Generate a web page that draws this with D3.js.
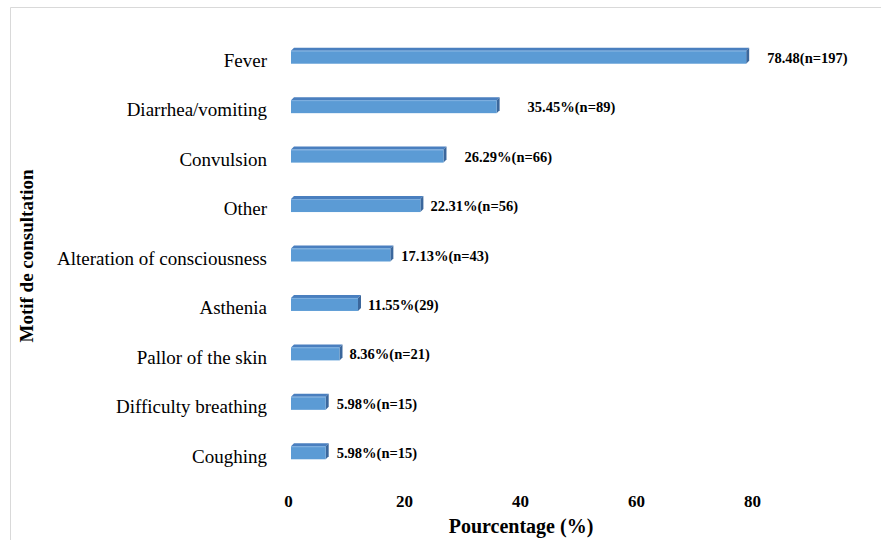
<!DOCTYPE html>
<html>
<head>
<meta charset="utf-8">
<script src="https://cdn.jsdelivr.net/npm/d3@7"></script>
<style>
  html, body { margin: 0; padding: 0; background: #fff; }
  svg { display: block; }
</style>
</head>
<body>
<svg id="chart" width="881" height="540"></svg>
<script>
// ---- data ----
const categories = ["Fever", "Diarrhea/vomiting", "Convulsion", "Other",
  "Alteration of consciousness", "Asthenia", "Pallor of the skin",
  "Difficulty breathing", "Coughing"];
const percentages = [78.48, 35.45, 26.29, 22.31, 17.13, 11.55, 8.36, 5.98, 5.98];
const valueLabels = ["78.48(n=197)", "35.45%(n=89)", "26.29%(n=66)", "22.31%(n=56)",
  "17.13%(n=43)", "11.55%(29)", "8.36%(n=21)", "5.98%(n=15)", "5.98%(n=15)"];
const xTicks = [0, 20, 40, 60, 80];
// label placement nudges (layout only)
const labelGap = [18, 28, 18, 7, 8, 7, 7, 8, 8];

// ---- layout ----
const svg = d3.select("#chart");
const W = 881, H = 540;

// frame
svg.append("line").attr("x1", 10.5).attr("x2", 10.5).attr("y1", 7.5).attr("y2", H)
  .attr("stroke", "#d9d9d9").attr("stroke-width", 1);
svg.append("line").attr("x1", 10.5).attr("x2", W).attr("y1", 7.5).attr("y2", 7.5)
  .attr("stroke", "#d9d9d9").attr("stroke-width", 1);

const x = d3.scaleLinear().domain([0, 80]).range([288, 752]);
const y = d3.scaleBand().domain(categories).range([36, 481]);
const cy = c => y(c) + y.bandwidth() / 2;

const serif = "'Liberation Serif', 'Times New Roman', serif";

// category labels
svg.append("g").selectAll("text").data(categories).join("text")
  .attr("x", 267).attr("y", d => cy(d)).attr("dy", "0.33em")
  .attr("text-anchor", "end")
  .attr("font-family", serif).attr("font-size", 19).attr("fill", "#000")
  .text(d => d);

// bars (pseudo 3D)
const off = 3, depth = 3, fh = 13;
const data = categories.map((c, i) => ({ c, v: percentages[i], lab: valueLabels[i], gap: labelGap[i] }));
const bars = svg.append("g");
data.forEach(d => {
  const x0 = x(0) + off, x1 = x(d.v) + off;
  const yTop = cy(d.c) - 10, yBot = yTop + fh;
  const g = bars.append("g");
  // top face
  g.append("path")
    .attr("d", `M${x0},${yTop} L${x0 + depth},${yTop - depth} L${x1 + depth},${yTop - depth} L${x1},${yTop} Z`)
    .attr("fill", "#4a7fbf");
  // side face
  g.append("path")
    .attr("d", `M${x1},${yTop} L${x1 + depth},${yTop - depth} L${x1 + depth},${yBot - depth} L${x1},${yBot} Z`)
    .attr("fill", "#3b679c");
  // front face
  g.append("rect").attr("x", x0).attr("y", yTop).attr("width", x1 - x0).attr("height", fh)
    .attr("fill", "#5b9bd5");
  g.append("line").attr("x1", x0).attr("x2", x1).attr("y1", yTop + 0.5).attr("y2", yTop + 0.5)
    .attr("stroke", "#7fb0e0").attr("stroke-width", 1);
});

// value labels
svg.append("g").selectAll("text").data(data).join("text")
  .attr("x", d => x(d.v) + off + depth + d.gap)
  .attr("y", d => cy(d.c) - 3).attr("dy", "0.35em")
  .attr("font-family", serif).attr("font-size", 14.5).attr("font-weight", "bold")
  .attr("fill", "#000")
  .text(d => d.lab);

// x axis (labels only)
const xAxis = d3.axisBottom(x).tickValues(xTicks).tickSize(0).tickPadding(0);
const gx = svg.append("g").attr("transform", "translate(0,495)").call(xAxis);
gx.select(".domain").remove();
gx.selectAll("text")
  .attr("font-family", serif).attr("font-size", 17).attr("font-weight", "bold")
  .attr("fill", "#000").attr("dy", "0.71em");

// axis titles
svg.append("text").attr("x", 521).attr("y", 533).attr("text-anchor", "middle")
  .attr("font-family", serif).attr("font-size", 20).attr("font-weight", "bold")
  .text("Pourcentage (%)");

svg.append("text").attr("transform", "translate(33,256) rotate(-90)")
  .attr("text-anchor", "middle")
  .attr("font-family", serif).attr("font-size", 19).attr("font-weight", "bold")
  .text("Motif de consultation");
</script>
</body>
</html>
